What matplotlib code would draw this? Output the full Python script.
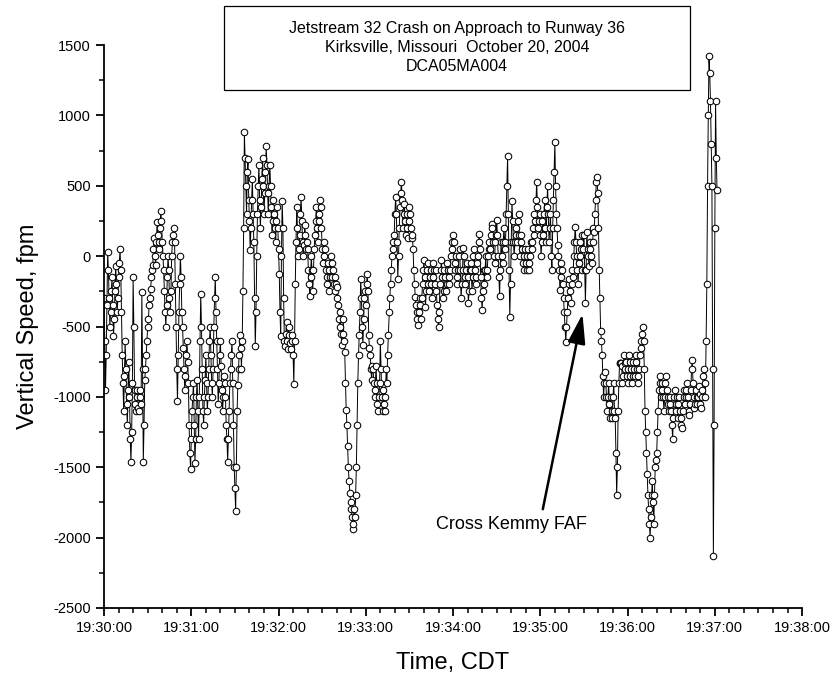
import matplotlib
matplotlib.use("Agg")
import matplotlib.pyplot as plt
from matplotlib.patches import Rectangle
from matplotlib.ticker import MultipleLocator, FuncFormatter
import numpy as np

plt.rcParams["font.family"] = ["Liberation Sans", "DejaVu Sans"]
plt.rcParams["axes.unicode_minus"] = False

# vertical speed (fpm), two samples per second starting 19:30:00 CDT
vs = [
    -300, -600, -950, -700, -350, 30, -100, -300, -500, -400,
    -250, -150, -350, -570, -450, -250, -70, -200, -400, -300,
    -150, -50, 50, -100, -400, -700, -900, -1100, -850, -600,
    -800, -1050, -1200, -950, -750, -1000, -1300, -1460, -1250, -900,
    -150, -500, -950, -1050, -1100, -1000, -950, -1080, -1100, -1000,
    -950, -1050, -255, -800, -1460, -1200, -880, -800, -700, -600,
    -500, -450, -350, -300, -230, -150, -100, -60, 50, 130,
    0, -60, 100, 240, 150, 50, 100, 200, 320, 250,
    100, 0, -100, -250, -400, -500, -350, -150, 0, -100,
    -300, -400, -250, 0, 100, 150, 200, 100, -200, -500,
    -800, -1030, -700, -400, -200, 0, -150, -400, -500, -650,
    -800, -950, -850, -700, -600, -750, -900, -1200, -1400, -1510,
    -1300, -1100, -1000, -900, -1200, -1470, -1300, -1000, -880, -1100,
    -1300, -1000, -600, -270, -500, -800, -1100, -1200, -1000, -880,
    -700, -900, -1100, -1000, -800, -600, -500, -700, -900, -1000,
    -800, -500, -300, -150, -400, -600, -800, -1050, -900, -700,
    -600, -780, -950, -1100, -1000, -850, -900, -1000, -1200, -1300,
    -1460, -1300, -1100, -900, -800, -700, -600, -900, -1200, -1500,
    -1650, -1810, -1500, -1100, -915, -800, -700, -560, -650, -800,
    -600, -250, 200, 880, 700, 500, 300, 600, 690, 400,
    250, 45, 200, 400, 550, 300, 100, -300, -640, -400,
    0, 300, 500, 650, 400, 200, 350, 550, 700, 500,
    300, 450, 600, 780, 650, 450, 300, 500, 650, 500,
    350, 150, 250, 400, 300, 200, 100, 250, 350, 200,
    50, -130, -400, -570, 0, 390, 200, -300, -600, -640,
    -550, -470, -600, -660, -500, -560, -620, -660, -600, -560,
    -700, -910, -600, -200, 100, 350, 200, 0, 50, 150,
    300, 420, 250, 100, 0, 80, 220, 150, 50, 100,
    50, -100, -200, -280, -150, 0, -100, -250, -100, 50,
    150, 250, 350, 200, 100, 250, 300, 400, 350, 200,
    50, -50, 0, 100, 50, -100, -200, -150, -50, -100,
    -250, -150, 0, -50, -150, -100, -200, -250, -150, -200,
    -300, -220, -350, -450, -500, -400, -550, -630, -550, -450,
    -600, -680, -900, -1090, -1200, -1350, -1500, -1600, -1680, -1750,
    -1800, -1850, -1940, -1900, -1800, -1850, -1700, -1500, -1200, -900,
    -700, -560, -400, -160, -300, -500, -630, -450, -300, -250,
    -350, -200, -130, -250, -560, -650, -700, -800, -880, -780,
    -800, -900, -1000, -950, -780, -900, -1050, -1100, -1000, -900,
    -600, -800, -1000, -1100, -950, -1050, -1100, -1000, -800, -900,
    -700, -560, -400, -300, -200, -100, 0, 100, 50, 150,
    300, 420, 300, 100, -160, 0, 200, 350, 450, 530,
    400, 200, 300, 370, 250, 150, 300, 200, 130, 250,
    350, 300, 200, 130, 150, 50, -100, -200, -290, -350,
    -400, -450, -490, -400, -300, -350, -450, -300, -200, -100,
    -30, -150, -360, -250, -100, -50, -200, -250, -150, -100,
    -200, -300, -150, -50, -100, -200, -100, -250, -350, -450,
    -500, -400, -200, -100, -30, -150, -300, -250, -100, -150,
    -250, -200, -50, -100, -200, -150, -100, 0, 50, 100,
    150, 100, -50, -100, 0, -150, -200, -100, 0, 50,
    -100, -300, -200, -100, 60, 0, -150, -200, -100, -50,
    -150, -330, -250, -100, -50, -100, -250, -150, 0, 50,
    -100, -200, -150, -50, 0, 100, 155, 50, -150, -300,
    -380, -250, -100, -200, -100, 0, -150, -100, 0, 50,
    100, 50, 150, 230, 200, 100, 0, -50, 100, 150,
    260, 150, 0, -150, -280, -100, 100, 0, -50, 100,
    200, 100, 50, 300, 500, 710, 300, -100, -430, -200,
    100, 390, 250, 100, 0, 100, 200, 150, 100, 250,
    300, 150, 0, 100, 150, 50, -50, -100, 0, 50,
    -50, -100, 0, 50, -50, -100, 0, 100, 50, 100,
    200, 300, 150, 250, 400, 530, 350, 200, 250, 300,
    150, 0, 100, 250, 150, 300, 400, 200, 100, 350,
    500, 300, 100, 200, 300, 0, -100, 200, 400, 600,
    810, 500, 300, 200, 80, 0, -100, -240, -150, -50,
    -100, -200, -300, -400, -500, -610, -500, -400, -300, -200,
    -160, -250, -330, -200, -100, -150, 0, 100, 210, 100,
    0, -100, -200, -50, 0, 100, 50, -100, 150, 50,
    150, -100, -330, -100, 170, 50, 0, -70, 50, 100,
    0, -50, 100, 200, 170, 300, 400, 530, 560, 450,
    200, -100, -300, -530, -600, -700, -850, -1000, -900, -820,
    -900, -1000, -1100, -1000, -900, -1050, -1150, -1000, -1100, -1150,
    -1000, -900, -1100, -1150, -1400, -1700, -1500, -1100, -900, -760,
    -760, -760, -780, -900, -850, -700, -760, -800, -750, -850,
    -900, -800, -700, -750, -850, -800, -900, -850, -750, -800,
    -850, -750, -700, -800, -850, -900, -800, -700, -650, -600,
    -550, -500, -600, -800, -1100, -1250, -1400, -1550, -1700, -1800,
    -1900, -2000, -1850, -1700, -1600, -1750, -1900, -1700, -1500, -1450,
    -1400, -1250, -1100, -950, -850, -900, -1000, -950, -900, -1000,
    -1100, -1000, -900, -850, -950, -1050, -1000, -1100, -1050, -1000,
    -1100, -1200, -1300, -1150, -1000, -950, -1050, -1100, -1000, -1150,
    -1050, -1000, -1100, -1150, -1200, -1220, -1100, -1000, -950, -1050,
    -1000, -950, -900, -1000, -1100, -1130, -1050, -950, -800, -740,
    -900, -1000, -1080, -1050, -950, -1000, -1050, -1000, -920, -980,
    -1050, -1080, -1000, -950, -850, -800, -900, -1000, -600, -200,
    500, 1000, 1420, 1300, 1100, 800, 500, -800, -2130, -1200,
    200, 1100, 700, 470,
]
t = np.arange(len(vs)) * 0.5

title_lines = [
    "Jetstream 32 Crash on Approach to Runway 36",
    "Kirksville, Missouri  October 20, 2004",
    "DCA05MA004",
]

fig = plt.figure(figsize=(8.39, 6.81), dpi=100)
ax = fig.add_axes([0.124, 0.1072, 0.832, 0.8267])

ax.plot(t, vs, color="black", lw=0.7, marker="o", markersize=4.7,
        markerfacecolor="white", markeredgecolor="black", markeredgewidth=0.75)

ax.set_xlim(0, 480)
ax.set_ylim(-2500, 1500)
ax.xaxis.set_major_locator(MultipleLocator(60))
ax.xaxis.set_minor_locator(MultipleLocator(10))
ax.yaxis.set_major_locator(MultipleLocator(500))
ax.yaxis.set_minor_locator(MultipleLocator(250))

def hms(x, pos):
    s = int(round(x)) + 19 * 3600 + 30 * 60
    return "%d:%02d:%02d" % (s // 3600, (s // 60) % 60, s % 60)

ax.xaxis.set_major_formatter(FuncFormatter(hms))

for side in ("top", "right"):
    ax.spines[side].set_visible(False)
for side in ("left", "bottom"):
    ax.spines[side].set_linewidth(1.3)
ax.tick_params(which="major", length=6, width=1.3, labelsize=10.5, direction="out")
ax.tick_params(which="minor", length=3.5, width=1.1, direction="out")

ax.set_xlabel("Time, CDT", fontsize=17, labelpad=12)
ax.set_ylabel("Vertical Speed, fpm", fontsize=17, labelpad=10)

# title box
fig.patches.append(Rectangle((0.267, 0.868), 0.555, 0.123, transform=fig.transFigure,
                             fill=False, edgecolor="black", lw=0.9))
fig.text(0.545, 0.930, "\n".join(title_lines), ha="center", va="center",
         fontsize=11.5, linespacing=1.35)

ax.annotate("Cross Kemmy FAF", xy=(329, -412), xytext=(280, -1939),
            ha="center", va="baseline", fontsize=13,
            arrowprops=dict(arrowstyle="-|>,head_length=1.0,head_width=0.3",
                            mutation_scale=18, lw=1.8, color="black",
                            relpos=(0.7, 1.0), shrinkA=3, shrinkB=0))

fig.savefig("out.png", dpi=100)
